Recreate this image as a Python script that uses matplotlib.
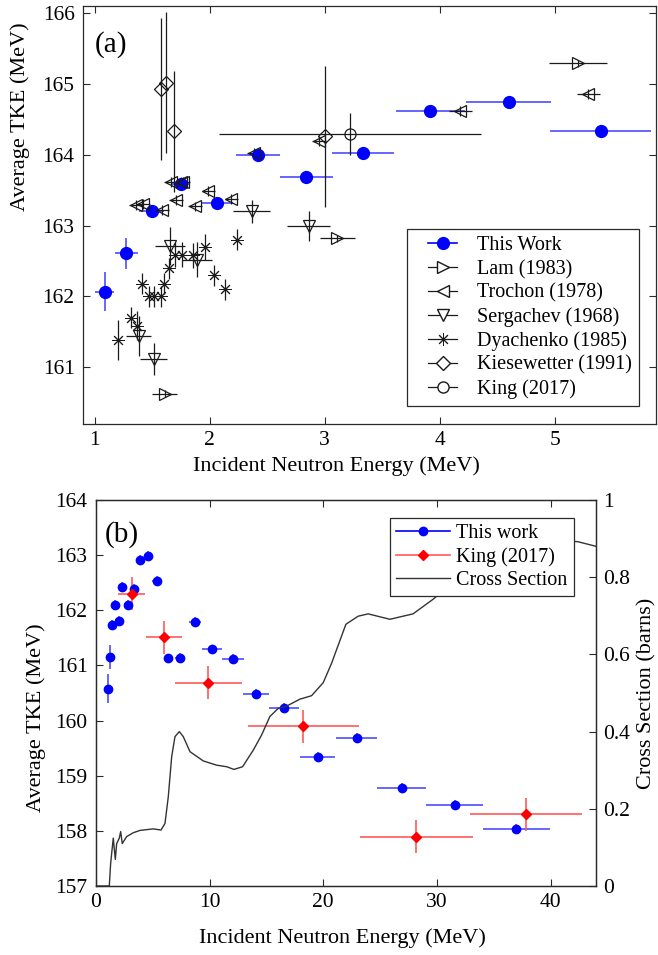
import matplotlib
matplotlib.use("Agg")
import matplotlib.pyplot as plt
from matplotlib.lines import Line2D
from matplotlib.legend_handler import HandlerLine2D
import numpy as np

plt.rcParams['font.family'] = ['Liberation Serif', 'DejaVu Serif']

# ---------------- Panel (a): comparison with earlier measurements ----------------
this_e = [1.087, 1.276, 1.496, 1.754, 2.067, 2.42, 2.84, 3.33, 3.92, 4.60, 5.40]
this_tke = [162.07, 162.61, 163.21, 163.59, 163.32, 164.00, 163.69, 164.03, 164.62, 164.74, 164.34]
this_dx = [0.08, 0.10, 0.11, 0.08, 0.14, 0.19, 0.23, 0.27, 0.30, 0.37, 0.44]
this_dy = [0.28, 0.22, 0.07, 0.06, 0.06, 0.06, 0.07, 0.06, 0.06, 0.07, 0.07]

lam_e = [5.20, 3.11, 1.61]
lam_tke = [165.29, 162.82, 160.63]
lam_dx = [0.25, 0.15, 0.11]
lam_dy = [0.05, 0.05, 0.05]

tro_e = [1.357, 1.42, 1.59, 1.667, 1.748, 1.77, 1.71, 1.87, 1.99, 2.19, 2.385, 2.95, 4.18, 5.29]
tro_tke = [163.29, 163.31, 163.22, 163.61, 163.61, 163.62, 163.36, 163.27, 163.49, 163.38,
           164.02, 164.19, 164.62, 164.86]
tro_dx = [0.06, 0.06, 0.06, 0.06, 0.06, 0.06, 0.06, 0.06, 0.06, 0.06, 0.06, 0.06, 0.10, 0.10]
tro_dy = [0.07] * 14

ser_e = [1.655, 1.89, 1.385, 1.513, 2.365, 2.86]
ser_tke = [162.71, 162.52, 161.44, 161.12, 163.20, 163.00]
ser_dx = [0.13, 0.13, 0.11, 0.12, 0.16, 0.19]
ser_dy = [0.27, 0.25, 0.28, 0.23, 0.16, 0.21]

dya_e = [1.206, 1.319, 1.365, 1.41, 1.47, 1.52, 1.574, 1.60, 1.646, 1.70, 1.757, 1.858,
         1.957, 2.04, 2.13, 2.235]
dya_tke = [161.39, 161.70, 161.59, 162.18, 162.00, 162.00, 162.00, 162.18, 162.40, 162.59,
           162.59, 162.58, 162.70, 162.30, 162.10, 162.80]
dya_dy = [0.28, 0.15, 0.20, 0.15, 0.15, 0.15, 0.15, 0.15, 0.15, 0.18, 0.18, 0.18, 0.18,
          0.15, 0.15, 0.15]

kie_e = [1.574, 1.623, 1.693, 3.00]
kie_tke = [164.93, 165.02, 164.33, 164.26]
kie_dy = [1.0, 1.0, 0.85, 1.0]

king_a_e = [3.22]
king_a_tke = [164.29]
king_a_dx = [1.14]
king_a_dy = [0.30]

# ---------------- Panel (b): this work up to 40 MeV ----------------
b_this_e = [1.03, 1.20, 1.41, 1.70, 2.02, 2.31, 2.81, 3.32, 3.87, 4.55, 5.36, 6.33, 7.39,
            8.73, 10.23, 12.08, 14.10, 16.56, 19.50, 22.93, 26.89, 31.55, 37.00]
b_this_tke = [160.58, 161.15, 161.74, 162.09, 161.81, 162.42, 162.10, 162.39, 162.91, 162.98,
              162.53, 161.13, 161.14, 161.79, 161.29, 161.11, 160.49, 160.22, 159.34, 159.69,
              158.77, 158.47, 158.04]
b_this_dx = [0.08, 0.09, 0.10, 0.12, 0.13, 0.15, 0.18, 0.20, 0.23, 0.27, 0.40, 0.35, 0.40,
             0.55, 0.88, 0.95, 1.13, 1.32, 1.57, 1.83, 2.15, 2.50, 2.93]
b_this_dy = [0.27, 0.22, 0.09, 0.09, 0.09, 0.09, 0.09, 0.09, 0.09, 0.09, 0.09, 0.08, 0.08,
             0.08, 0.08, 0.09, 0.09, 0.09, 0.09, 0.09, 0.09, 0.09, 0.09]

b_king_e = [3.14, 5.98, 9.88, 18.24, 28.20, 37.85]
b_king_tke = [162.30, 161.51, 160.69, 159.90, 157.89, 158.30]
b_king_dx = [1.20, 1.57, 2.93, 4.88, 5.00, 4.95]
b_king_dy = [0.30, 0.30, 0.30, 0.30, 0.30, 0.30]

xs_e = [0.0, 1.17, 1.29, 1.52, 1.70, 1.82, 2.05, 2.17, 2.31, 2.70, 3.28, 3.87, 5.04, 5.72,
        6.07, 6.36, 6.66, 6.95, 7.33, 7.68, 8.27, 9.44, 10.62, 11.50, 12.14, 12.90, 13.84,
        14.57, 15.30, 16.03, 16.77, 17.94, 18.97, 20.00, 20.73, 21.99, 23.07, 23.95, 25.86,
        27.90, 29.67, 32.0, 35.0, 38.0, 41.0, 42.4, 44.0]
xs_sigma = [0.0, 0.0, 0.059, 0.124, 0.069, 0.110, 0.124, 0.141, 0.110, 0.128, 0.138, 0.144,
            0.148, 0.145, 0.162, 0.231, 0.335, 0.387, 0.400, 0.387, 0.348, 0.324, 0.313,
            0.309, 0.302, 0.309, 0.352, 0.391, 0.439, 0.460, 0.466, 0.484, 0.493, 0.527,
            0.577, 0.678, 0.699, 0.705, 0.691, 0.705, 0.743, 0.800, 0.850, 0.880, 0.895,
            0.892, 0.880]

# ---------------- styling ----------------
W, H = 658, 955
FS = 15.5
LFS = 16.0
SPINE = '#2a2a2a'
BLK = '#1a1a1a'
BLUE = (0, 0, 1)
BLUE_E = (0.3, 0.3, 1)
RED = (1, 0, 0)
RED_E = (1, 0.35, 0.35)


def style_axes(ax, right=True):
    for s in ax.spines.values():
        s.set_color(SPINE)
        s.set_linewidth(0.9)
    ax.tick_params(direction='in', length=5, width=0.8, colors=SPINE,
                   labelcolor='black', labelsize=FS, top=True, right=right)
    ax.tick_params(axis='y', pad=6)
    ax.tick_params(axis='x', pad=5)


def place_label(label, px, py):
    label.set_va('center')
    label.set_ha('center')
    label.axes  # noqa
    return (px / W, 1 - py / H)


fig = plt.figure(figsize=(W / 100, H / 100), dpi=100)

# ---------- (a) ----------
ax = fig.add_axes([83 / W, 1 - 424 / H, 573 / W, 418 / H])
style_axes(ax)

ax.errorbar(this_e, this_tke, xerr=this_dx, yerr=this_dy, fmt='o', ms=8.5,
            color=BLUE, ecolor=BLUE_E, elinewidth=1.2, capsize=0)
open_kw = dict(mfc='none', mec=BLK, mew=0.9, ecolor=BLK, elinewidth=0.9, capsize=0,
               color=BLK)
ax.errorbar(lam_e, lam_tke, xerr=lam_dx, yerr=lam_dy, fmt='>', ms=8, **open_kw)
ax.errorbar(tro_e, tro_tke, xerr=tro_dx, yerr=tro_dy, fmt='<', ms=8, **open_kw)
ax.errorbar(ser_e, ser_tke, xerr=ser_dx, yerr=ser_dy, fmt='v', ms=8, **open_kw)
ax.errorbar(dya_e, dya_tke, yerr=dya_dy, fmt='none', ecolor=BLK, elinewidth=0.9, capsize=0)
ax.plot(dya_e, dya_tke, linestyle='none', marker=(8, 2, 0), ms=9, mec=BLK, mew=0.7)
ax.errorbar(kie_e, kie_tke, yerr=kie_dy, fmt='D', ms=7, **open_kw)
ax.errorbar(king_a_e, king_a_tke, xerr=king_a_dx, yerr=king_a_dy, fmt='o', ms=8, **open_kw)

ax.set_xlim(0.9, 5.88)
ax.set_ylim(160.2, 166.1)
ax.set_xticks([1, 2, 3, 4, 5])
ax.set_yticks([161, 162, 163, 164, 165, 166])
xl = ax.set_xlabel('Incident Neutron Energy (MeV)', fontsize=LFS)
ax.xaxis.set_label_coords(336 / W, 1 - 466 / H, transform=fig.transFigure)
xl.set_va('center')
yl = ax.set_ylabel('Average TKE (MeV)', fontsize=LFS)
ax.yaxis.set_label_coords(20 / W, 1 - 117 / H, transform=fig.transFigure)
yl.set_va('center')
ax.text(0.02, 0.94, '(a)', transform=ax.transAxes, fontsize=21, va='top', ha='left')

leg_a = [
    Line2D([], [], color=BLUE, marker='o', ms=8.5, lw=1.2),
    Line2D([], [], color=BLK, marker='>', ms=8, mfc='white', mec=BLK, lw=0.9),
    Line2D([], [], color=BLK, marker='<', ms=8, mfc='white', mec=BLK, lw=0.9),
    Line2D([], [], color=BLK, marker='v', ms=8, mfc='white', mec=BLK, lw=0.9),
    Line2D([], [], color=BLK, marker=(8, 2, 0), ms=9, mec=BLK, mew=0.7, lw=0.9),
    Line2D([], [], color=BLK, marker='D', ms=7, mfc='white', mec=BLK, lw=0.9),
    Line2D([], [], color=BLK, marker='o', ms=8, mfc='white', mec=BLK, lw=0.9),
]
labels_a = ['This Work', 'Lam (1983)', 'Trochon (1978)', 'Sergachev (1968)',
            'Dyachenko (1985)', 'Kiesewetter (1991)', 'King (2017)']
lg = ax.legend(leg_a, labels_a, loc='lower right', bbox_to_anchor=(638.7 / W, 1 - 406 / H),
               bbox_transform=fig.transFigure, fontsize=14.5, frameon=True, fancybox=False,
               edgecolor=SPINE, framealpha=1, handlelength=2.1, handletextpad=1.0,
               labelspacing=0.22, borderpad=0.35, borderaxespad=0,
               handler_map={Line2D: HandlerLine2D(xpad=0.7)})
lg.get_frame().set_linewidth(0.9)

# ---------- (b) ----------
axb = fig.add_axes([96 / W, 1 - 886 / H, 500 / W, 386 / H])
style_axes(axb, right=False)
axb.errorbar(b_this_e, b_this_tke, xerr=b_this_dx, yerr=b_this_dy, fmt='o', ms=6,
             color=BLUE, ecolor=BLUE_E, elinewidth=1.2, capsize=0)
axb.errorbar(b_king_e, b_king_tke, xerr=b_king_dx, yerr=b_king_dy, fmt='D', ms=5.5,
             color=RED, ecolor=RED_E, elinewidth=1.2, capsize=0)
axb.set_xlim(0, 44)
axb.set_ylim(157, 164)
axb.set_xticks([0, 10, 20, 30, 40])
axb.set_yticks(np.arange(157, 165, 1))
xlb = axb.set_xlabel('Incident Neutron Energy (MeV)', fontsize=LFS)
axb.xaxis.set_label_coords(342 / W, 1 - 938 / H, transform=fig.transFigure)
xlb.set_va('center')
ylb = axb.set_ylabel('Average TKE (MeV)', fontsize=LFS)
axb.yaxis.set_label_coords(36 / W, 1 - 718 / H, transform=fig.transFigure)
ylb.set_va('center')
axb.text(0.017, 0.945, '(b)', transform=axb.transAxes, fontsize=21, va='top', ha='left')

ax2 = axb.twinx()
for s in ax2.spines.values():
    s.set_color(SPINE)
    s.set_linewidth(0.9)
ax2.tick_params(direction='in', length=5, width=0.8, colors=SPINE, labelcolor='black',
                labelsize=FS, pad=5)
ax2.plot(xs_e, xs_sigma, color='#333333', lw=1.0)
ax2.set_ylim(0, 1)
ax2.set_yticks([0, 0.2, 0.4, 0.6, 0.8, 1.0])
ax2.set_yticklabels(['0', '0.2', '0.4', '0.6', '0.8', '1'])
ax2.set_ylabel('Cross Section (barns)', fontsize=LFS, labelpad=5)

leg_b = [
    Line2D([], [], color=BLUE, marker='o', ms=6, lw=1.2),
    Line2D([], [], color=RED_E, marker='D', ms=5.5, mfc=RED, mec=RED, lw=1.2),
    Line2D([], [], color='#333333', lw=1.0),
]
lgb = ax2.legend(leg_b, ['This work', 'King (2017)', 'Cross Section'], loc='upper left',
                 bbox_to_anchor=(390 / W, 1 - 518 / H), bbox_transform=fig.transFigure,
                 fontsize=14.5, frameon=True, fancybox=False, edgecolor=SPINE, framealpha=1,
                 handlelength=2.7, handletextpad=0.3, labelspacing=0.2, borderpad=0.3,
                 borderaxespad=0)
lgb.get_frame().set_linewidth(0.9)

fig.savefig('out.png', dpi=100)
